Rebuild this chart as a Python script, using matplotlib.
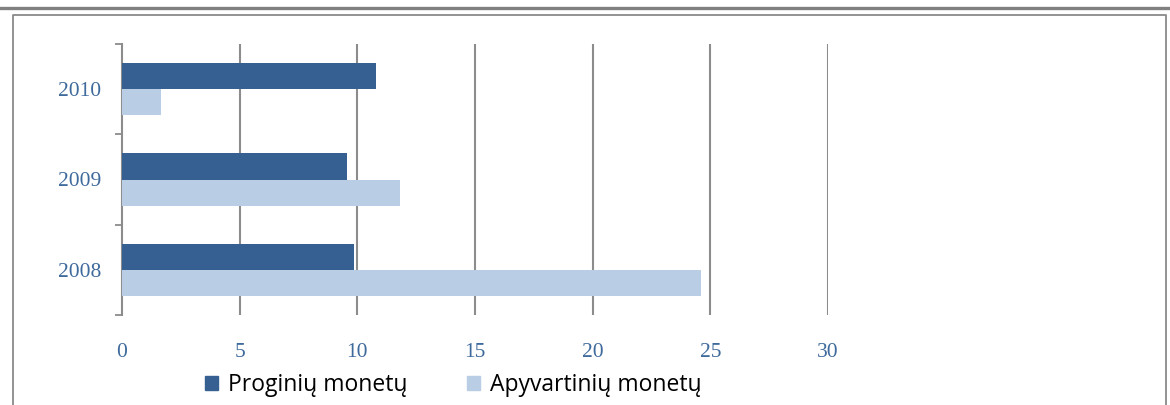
import numpy as np
import matplotlib.pyplot as plt
from matplotlib.lines import Line2D
from matplotlib.patches import Patch

# duomenys
years = ["2008", "2009", "2010"]
proginiu = [9.86, 9.56, 10.8]
apyvartiniu = [24.6, 11.8, 1.66]
series_names = ["Proginių monetų", "Apyvartinių monetų"]
x_ticks = [0, 5, 10, 15, 20, 25, 30]

dark = "#376092"
light = "#B9CDE5"
label_blue = "#3F6A9C"
grid_gray = "#8C8C8C"

fig = plt.figure(figsize=(11.7, 4.05), dpi=100)
W, H = 1170, 405

# rėmelis ir viršutinė linija
fig.add_artist(Line2D([0, 1], [1 - 7.5 / H, 1 - 7.5 / H], transform=fig.transFigure, color="#808080", lw=2.4))
fig.add_artist(Line2D([13 / W, 13 / W, 1166 / W, 1166 / W], [0, 1 - 14.5 / H, 1 - 14.5 / H, 0],
                      transform=fig.transFigure, color="#8A8A8A", lw=1.3))

ax = fig.add_axes([122 / W, 1 - 315 / H, (828 - 122) / W, (315 - 44) / H])

y = np.arange(len(years))
h = 0.29
ax.barh(y + h / 2, proginiu, height=h, color=dark, zorder=3)
ax.barh(y - h / 2, apyvartiniu, height=h, color=light, zorder=3)

ax.set_xlim(0, 30)
ax.set_ylim(-0.5, 2.5)
ax.set_xticks(x_ticks)
ax.set_xticklabels([str(t) for t in x_ticks], family="Liberation Serif", fontsize=15.5, color=label_blue)
ax.tick_params(axis="x", length=0, pad=20)
ax.set_yticks(y)
ax.set_yticklabels(years, family="Liberation Serif", fontsize=15.5, color=label_blue)
ax.tick_params(axis="y", which="major", length=0, pad=15)
ax.set_yticks([-0.5, 0.5, 1.5, 2.5], minor=True)
ax.tick_params(axis="y", which="minor", length=5, width=1.3, color=grid_gray, direction="out")

for t in x_ticks[1:]:
    ax.axvline(t, color=grid_gray, lw=1.5, zorder=1)

for s in ["top", "right", "bottom"]:
    ax.spines[s].set_visible(False)
ax.spines["left"].set_color(grid_gray)
ax.spines["left"].set_linewidth(1.5)

handles = [Patch(color=dark), Patch(color=light)]
fig.legend(handles, series_names, loc="center", bbox_to_anchor=(453 / W, 1 - 385 / H),
           ncol=2, frameon=False, prop={"family": "Open Sans", "size": 16.5},
           handlelength=0.6, handleheight=0.6, handletextpad=0.4, columnspacing=2.6,
           borderpad=0, borderaxespad=0)

fig.savefig("out.png", dpi=100)
